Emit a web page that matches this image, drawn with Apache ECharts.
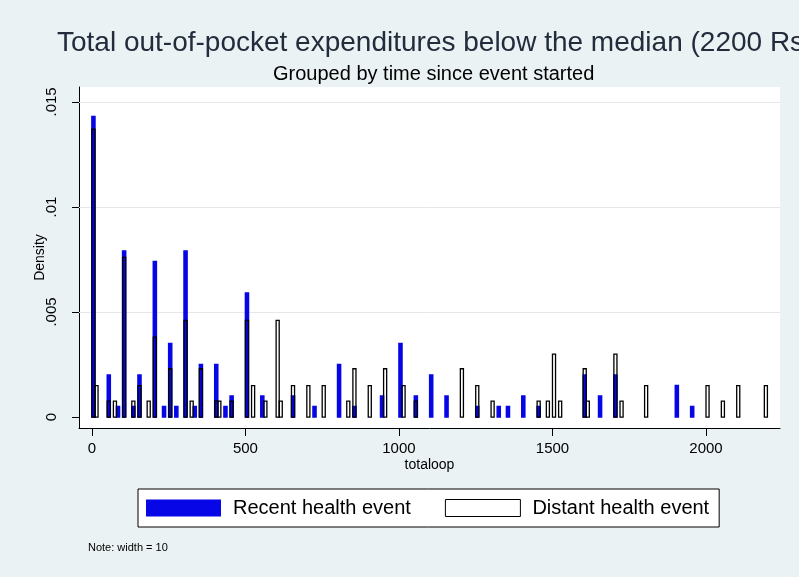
<!DOCTYPE html>
<html><head><meta charset="utf-8">
<script src="https://cdn.jsdelivr.net/npm/echarts@6/dist/echarts.min.js"></script>
<style>html,body{margin:0;padding:0;background:#eaf2f3}#chart{width:799px;height:577px}</style>
</head><body><div id="chart"></div>
<script>
// ---- data ----
const BIN_WIDTH = 10;
const recentBins = [0,50,80,100,130,150,200,230,250,270,300,330,350,400,430,450,500,550,650,720,800,850,940,1000,1050,1100,1150,1250,1320,1350,1400,1450,1600,1650,1700,1900,1950];
const recentDensity = [0.0143,0.002,0.0005,0.0079,0.0005,0.002,0.0074,0.0005,0.0035,0.0005,0.0079,0.0005,0.0025,0.0025,0.0005,0.001,0.0059,0.001,0.001,0.0005,0.0025,0.0005,0.001,0.0035,0.001,0.002,0.001,0.0005,0.0005,0.0005,0.001,0.0005,0.002,0.001,0.002,0.0015,0.0005];
const distantBins = [0,10,50,70,100,130,150,180,200,250,300,320,350,400,410,450,500,520,560,600,610,650,700,750,830,850,900,950,1010,1050,1200,1250,1300,1450,1480,1500,1520,1600,1610,1700,1720,1800,2000,2050,2100,2190];
const distantDensity = [0.0137,0.0015,0.00076,0.00076,0.0076,0.00076,0.0015,0.00076,0.0038,0.0023,0.0046,0.00076,0.0023,0.00076,0.00076,0.00076,0.0046,0.0015,0.00076,0.0046,0.00076,0.0015,0.0015,0.0015,0.00076,0.0023,0.0015,0.0023,0.0015,0.00076,0.0023,0.0015,0.00076,0.00076,0.00076,0.003,0.00076,0.0023,0.00076,0.003,0.00076,0.0015,0.0015,0.00076,0.0015,0.0015];
const xTickValues = [0,500,1000,1500,2000];
const yTickValues = [0,0.005,0.01,0.015];
const gridValues = [0.005,0.01,0.015];
const titleText = 'Total out-of-pocket expenditures below the median (2200 Rs';
const subtitleText = 'Grouped by time since event started';
const xTitle = 'totaloop';
const yTitle = 'Density';
const legendNames = ['Recent health event','Distant health event'];
const noteText = 'Note: width = 10';

const X_MIN = -42, X_MAX = 2241, Y_MIN = -0.00052, Y_MAX = 0.01571;
const FONT = '"Liberation Sans", Arial, sans-serif';
const BLUE = '#0606e6';

const chart = echarts.init(document.getElementById('chart'), null, {renderer:'canvas'});

function barItem(style) {
  return function (params, api) {
    const x0 = api.value(0), h = api.value(1);
    const p0 = api.coord([x0, 0]);
    const p1 = api.coord([x0 + BIN_WIDTH, h]);
    return {type:'rect', shape:{x:p0[0], y:p1[1], width:p1[0]-p0[0], height:p0[1]-p1[1]}, style: style};
  };
}

chart.setOption({
  backgroundColor: '#eaf2f3',
  animation: false,
  textStyle: {fontFamily: FONT},
  title: [
    {text: titleText, left: 52, top: 24, textStyle:{fontSize:28, fontWeight:'normal', color:'#232c3c', fontFamily:FONT}},
    {text: subtitleText, left: 268, top: 59, textStyle:{fontSize:20, fontWeight:'normal', color:'#000', fontFamily:FONT}}
  ],
  grid: {left:79, right:19, top:87, bottom:149, show:true, backgroundColor:'#fff', borderWidth:0},
  xAxis: {
    type:'value', min:X_MIN, max:X_MAX,
    axisLine:{show:true, onZero:false, lineStyle:{color:'#000', width:1}},
    axisTick:{show:true, length:8, customValues:xTickValues, lineStyle:{color:'#000'}},
    axisLabel:{customValues:xTickValues, fontSize:15, color:'#000', margin:13, fontFamily:FONT,
      formatter: v => String(v)},
    splitLine:{show:false},
    name:xTitle, nameLocation:'middle', nameGap:30, nameMoveOverlap:false,
    nameTextStyle:{fontSize:14, color:'#000', fontFamily:FONT}
  },
  yAxis: {
    type:'value', min:Y_MIN, max:Y_MAX,
    axisLine:{show:true, onZero:false, lineStyle:{color:'#000', width:1}},
    axisTick:{show:true, length:7, customValues:yTickValues, lineStyle:{color:'#000'}},
    axisLabel:{customValues:yTickValues, rotate:90, fontSize:15, color:'#000', margin:20, fontFamily:FONT,
      formatter: v => v === 0 ? '0' : String(+v.toFixed(4)).replace(/^0\./, '.')},
    splitLine:{show:false},
    name:yTitle, nameLocation:'middle', nameGap:32, nameMoveOverlap:false,
    nameTextStyle:{fontSize:14, color:'#000', fontFamily:FONT}
  },
  legend: {
    left:138, top:489, selectedMode:false,
    data:[
      {name:legendNames[0], icon:'rect', itemStyle:{color:BLUE, borderWidth:0}},
      {name:legendNames[1], icon:'rect', itemStyle:{color:'#fff', borderColor:'#000', borderWidth:1}}
    ],
    itemWidth:75, itemHeight:17, itemGap:34,
    backgroundColor:'#fff', borderColor:'#000', borderWidth:1, borderRadius:0,
    padding:[9,10,9,8],
    textStyle:{fontSize:20, color:'#000', fontFamily:FONT, padding:[0,0,0,7]}
  },
  graphic: [
    {type:'text', left:88, top:542, style:{text:noteText, fontSize:11, fill:'#000', fontFamily:FONT}}
  ],
  series: [
    {
      name:'grid', type:'custom', z:1, silent:true,
      data: gridValues.map(v => [v]),
      renderItem: function (params, api) {
        const v = api.value(0);
        const a = api.coord([X_MIN, v]), b = api.coord([X_MAX, v]);
        return {type:'line', shape:{x1:a[0], y1:Math.round(a[1])+0.5, x2:b[0], y2:Math.round(b[1])+0.5}, style:{stroke:'#e4e8ea', lineWidth:1}};
      }
    },
    {
      name:legendNames[0], type:'custom', z:2,
      itemStyle:{color:BLUE},
      data: recentBins.map((b,i) => [b, recentDensity[i]]),
      renderItem: barItem({fill:BLUE, stroke:BLUE, lineWidth:1.5})
    },
    {
      name:legendNames[1], type:'custom', z:3,
      itemStyle:{color:'#fff', borderColor:'#000', borderWidth:1},
      data: distantBins.map((b,i) => [b, distantDensity[i]]),
      renderItem: barItem({fill:'none', stroke:'#000', lineWidth:1.3})
    }
  ]
});
</script></body></html>
